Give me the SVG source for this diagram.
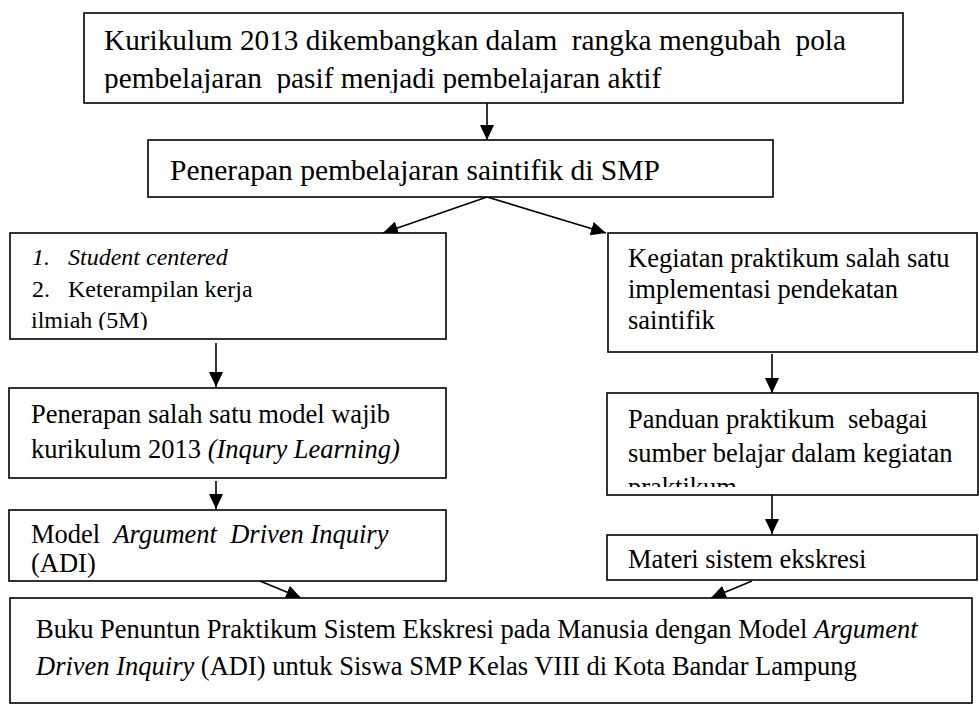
<svg xmlns="http://www.w3.org/2000/svg" width="979" height="715" viewBox="0 0 979 715">
<style>
.box{fill:#fff;stroke:#000;stroke-width:1.6}
.t{font-family:"Liberation Serif","Times New Roman",serif;fill:#000}
.i{font-style:italic}
.con{stroke:#000;stroke-width:1.6;fill:none}
</style>
<defs>
<marker id="ah" markerUnits="userSpaceOnUse" markerWidth="16" markerHeight="14" refX="15" refY="7" orient="auto">
<path d="M0,0 L15,7 L0,14 Z" fill="#000"/>
</marker>
<clipPath id="c1"><rect x="84" y="13" width="819" height="80"/></clipPath>
<clipPath id="c3"><rect x="10" y="233" width="436" height="97"/></clipPath>
<clipPath id="c7"><rect x="607" y="393" width="371" height="94"/></clipPath>
</defs>
<rect width="979" height="715" fill="#fff"/>
<g id="connectors">
<line class="con" x1="487" y1="103" x2="487" y2="140" marker-end="url(#ah)"/>
<line class="con" x1="487" y1="197" x2="383" y2="233" marker-end="url(#ah)"/>
<line class="con" x1="487" y1="197" x2="606" y2="233" marker-end="url(#ah)"/>
<line class="con" x1="216" y1="343" x2="216" y2="387" marker-end="url(#ah)"/>
<line class="con" x1="216" y1="481" x2="216" y2="509" marker-end="url(#ah)"/>
<line class="con" x1="772" y1="354" x2="772" y2="393" marker-end="url(#ah)"/>
<line class="con" x1="772" y1="493" x2="772" y2="534" marker-end="url(#ah)"/>
<line class="con" x1="260" y1="581" x2="301" y2="598" marker-end="url(#ah)"/>
<line class="con" x1="752" y1="581" x2="711" y2="598" marker-end="url(#ah)"/>
</g>
<g id="n1">
<rect class="box" x="84" y="13" width="819" height="90"/>
<g clip-path="url(#c1)">
<text class="t" x="104" y="50" font-size="29.3" xml:space="preserve">Kurikulum 2013 dikembangkan dalam  rangka mengubah  pola</text>
<text class="t" x="104" y="88" font-size="29.3" xml:space="preserve">pembelajaran  pasif menjadi pembelajaran aktif</text>
</g>
</g>
<g id="n2">
<rect class="box" x="148" y="140" width="625" height="57"/>
<text class="t" x="170" y="180" font-size="29.5">Penerapan pembelajaran saintifik di SMP</text>
</g>
<g id="n3">
<rect class="box" x="10" y="233" width="436" height="106"/>
<g clip-path="url(#c3)">
<text class="t i" x="32" y="265" font-size="24">1.</text>
<text class="t i" x="68" y="265" font-size="24">Student centered</text>
<text class="t" x="32" y="297" font-size="24">2.</text>
<text class="t" x="68" y="297" font-size="24">Keterampilan kerja</text>
<text class="t" x="31" y="328" font-size="24">ilmiah (5M)</text>
</g>
</g>
<g id="n4">
<rect class="box" x="608" y="233" width="369" height="119"/>
<text class="t" x="628" y="267" font-size="26.5">Kegiatan praktikum salah satu</text>
<text class="t" x="628" y="298" font-size="26.5">implementasi pendekatan</text>
<text class="t" x="628" y="329" font-size="26.5">saintifik</text>
</g>
<g id="n5">
<rect class="box" x="9" y="388" width="437" height="90"/>
<text class="t" x="31" y="423" font-size="26.5">Penerapan salah satu model wajib</text>
<text class="t" x="31" y="458" font-size="26.5">kurikulum 2013 <tspan class="i">(Inqury Learning)</tspan></text>
</g>
<g id="n6">
<rect class="box" x="9" y="510" width="437" height="71"/>
<text class="t" x="31" y="543" font-size="26.5" xml:space="preserve">Model  <tspan class="i">Argument  Driven Inquiry</tspan></text>
<text class="t" x="31" y="572" font-size="26.5">(ADI)</text>
</g>
<g id="n7">
<rect class="box" x="607" y="393" width="371" height="102"/>
<g clip-path="url(#c7)">
<text class="t" x="628" y="428" font-size="26.5" xml:space="preserve">Panduan praktikum  sebagai</text>
<text class="t" x="628" y="462" font-size="26.5">sumber belajar dalam kegiatan</text>
<text class="t" x="628" y="496" font-size="26.5">praktikum</text>
</g>
</g>
<g id="n8">
<rect class="box" x="607" y="535" width="370" height="45"/>
<text class="t" x="628" y="568" font-size="26.5">Materi sistem ekskresi</text>
</g>
<g id="n9">
<rect class="box" x="10" y="598" width="962" height="105"/>
<text class="t" x="36" y="638" font-size="26.5">Buku Penuntun Praktikum Sistem Ekskresi pada Manusia dengan Model <tspan class="i">Argument</tspan></text>
<text class="t" x="36" y="675" font-size="26.5"><tspan class="i">Driven Inquiry</tspan> (ADI) untuk Siswa SMP Kelas VIII di Kota Bandar Lampung</text>
</g>
</svg>
